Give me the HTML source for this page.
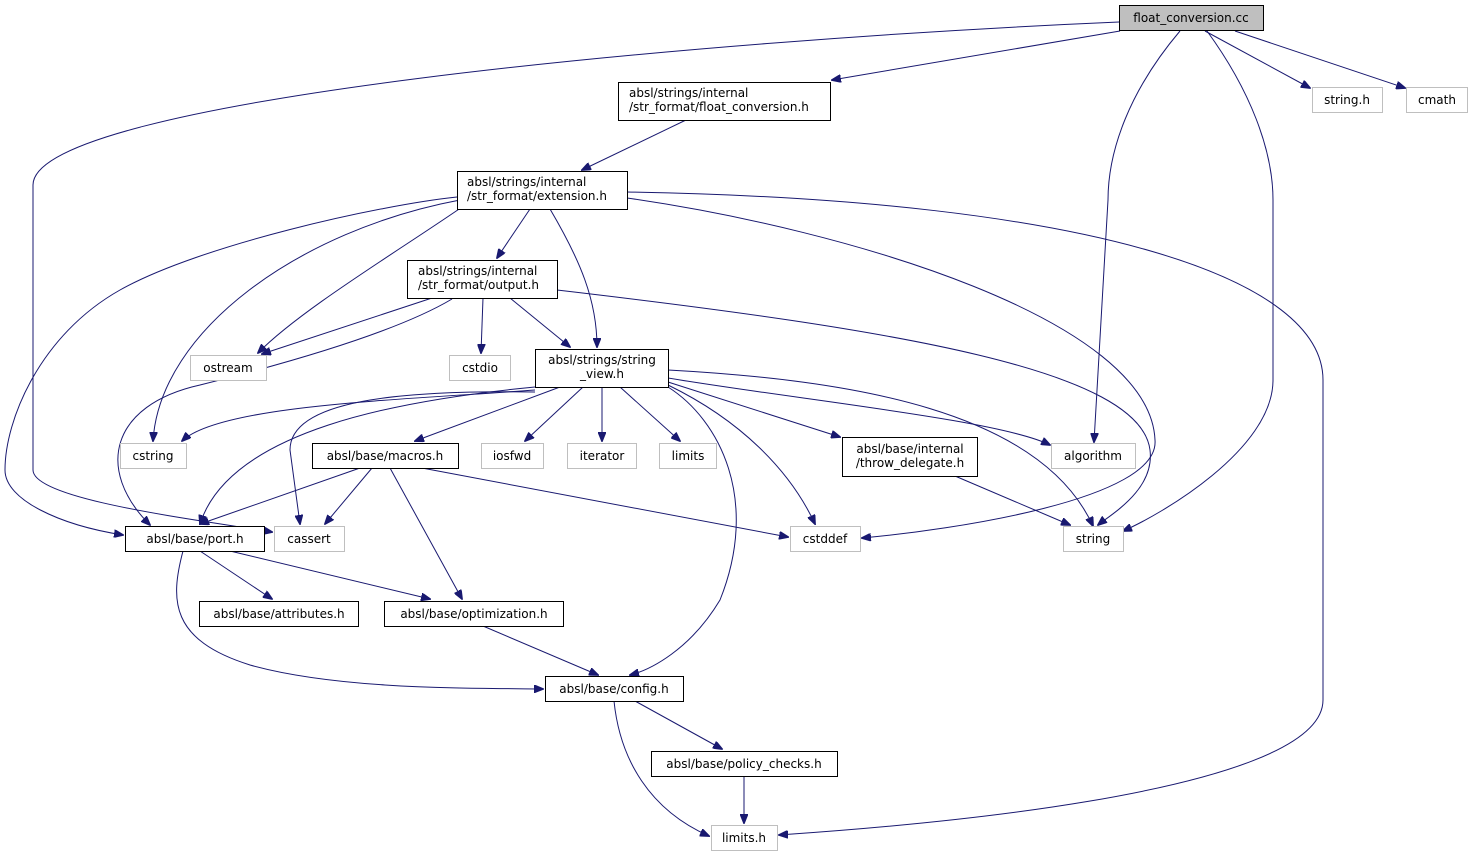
<!DOCTYPE html>
<html><head><meta charset="utf-8"><style>
html,body{margin:0;padding:0;background:#fff;}
svg{display:block;}
text{font-family:"DejaVu Sans","Liberation Sans",sans-serif;font-size:12px;fill:#000;}
.b{fill:#fff;stroke:#000;stroke-width:1;}
.g{fill:#fff;stroke:#bfbfbf;stroke-width:1;}
.e{fill:none;stroke:#191970;stroke-width:1;marker-end:url(#a);}
</style></head><body>
<svg width="1475" height="857" viewBox="0 0 1475 857">
<defs><marker id="a" markerWidth="10" markerHeight="8" refX="9" refY="4" orient="auto" markerUnits="userSpaceOnUse"><path d="M0,0 L10,4 L0,8 z" fill="#191970" stroke="#191970"/></marker></defs>
<g>
<path class="e" d="M1120,31 L832,80"/>
<path class="e" d="M1119,22 C700,40 33,100 33,185 L33,470 C33,500 200,520 272,532"/>
<path class="e" d="M1205,31 L1310,88"/>
<path class="e" d="M1235,31 L1405,88"/>
<path class="e" d="M1180,31 C1130,90 1108,150 1108,200 L1094,442"/>
<path class="e" d="M1207,31 C1250,90 1273,150 1273,200 L1273,380 C1273,450 1160,515 1123,531"/>
<path class="e" d="M686,120 L582,170"/>
<path class="e" d="M530,209 L497,258"/>
<path class="e" d="M550,209 C580,260 597,300 597,347"/>
<path class="e" d="M465,205 C400,250 300,310 258,353"/>
<path class="e" d="M460,200 C300,230 160,330 153,441"/>
<path class="e" d="M457,197 C380,205 200,245 120,290 C40,335 5,420 5,470 C5,500 60,525 123,535"/>
<path class="e" d="M627,198 C850,230 1150,320 1155,440 C1160,500 950,530 862,538"/>
<path class="e" d="M627,192 C1100,200 1323,280 1323,380 L1323,700 C1323,800 850,830 779,835"/>
<path class="e" d="M432,298 L262,354"/>
<path class="e" d="M483,298 L481,353"/>
<path class="e" d="M510,298 L570,347"/>
<path class="e" d="M452,299 C400,330 300,360 200,385 C110,405 95,470 150,525"/>
<path class="e" d="M557,290 C900,330 1140,370 1150,450 C1155,490 1110,515 1098,525"/>
<path class="e" d="M535,390 C400,400 220,405 182,441"/>
<path class="e" d="M560,387 L415,441"/>
<path class="e" d="M583,387 L525,441"/>
<path class="e" d="M602,387 L602,441"/>
<path class="e" d="M620,387 L680,441"/>
<path class="e" d="M668,382 L840,437"/>
<path class="e" d="M668,378 C800,400 1000,420 1050,445"/>
<path class="e" d="M668,370 C850,380 1040,410 1093,526"/>
<path class="e" d="M668,385 C740,420 790,470 815,524"/>
<path class="e" d="M668,387 C720,420 760,500 720,600 C690,650 650,670 630,675"/>
<path class="e" d="M535,392 C400,390 290,400 290,450 L300,524"/>
<path class="e" d="M535,387 C400,400 230,430 200,524"/>
<path class="e" d="M360,468 L200,524"/>
<path class="e" d="M372,468 L325,524"/>
<path class="e" d="M390,468 L462,599"/>
<path class="e" d="M422,468 L788,537"/>
<path class="e" d="M955,476 L1070,525"/>
<path class="e" d="M200,551 L272,599"/>
<path class="e" d="M230,551 L430,599"/>
<path class="e" d="M183,551 C170,600 170,640 250,665 C340,690 470,688 543,689"/>
<path class="e" d="M483,626 L598,675"/>
<path class="e" d="M635,701 L722,749"/>
<path class="e" d="M614,701 C620,760 650,810 709,836"/>
<path class="e" d="M744,776 L744,823"/>
</g>
<rect x="1119.5" y="5.5" width="144" height="25" fill="#bfbfbf" stroke="#000"/>
<text x="1191" y="22" text-anchor="middle">float_conversion.cc</text>
<rect class="b" x="618.5" y="82.5" width="212" height="38"/>
<text x="629" y="97">absl/strings/internal</text><text x="629" y="111">/str_format/float_conversion.h</text>
<rect class="g" x="1312.5" y="87.5" width="70" height="25"/><text x="1347" y="104" text-anchor="middle">string.h</text>
<rect class="g" x="1406.5" y="87.5" width="61" height="25"/><text x="1437" y="104" text-anchor="middle">cmath</text>
<rect class="b" x="457.5" y="171.5" width="170" height="38"/>
<text x="467" y="186">absl/strings/internal</text><text x="467" y="200">/str_format/extension.h</text>
<rect class="b" x="407.5" y="260.5" width="150" height="38"/>
<text x="418" y="275">absl/strings/internal</text><text x="418" y="289">/str_format/output.h</text>
<rect class="g" x="190.5" y="355.5" width="76" height="25"/><text x="228" y="372" text-anchor="middle">ostream</text>
<rect class="g" x="449.5" y="355.5" width="61" height="25"/><text x="480" y="372" text-anchor="middle">cstdio</text>
<rect class="b" x="535.5" y="349.5" width="133" height="38"/>
<text x="602" y="364" text-anchor="middle">absl/strings/string</text><text x="602" y="378" text-anchor="middle">_view.h</text>
<rect class="g" x="120.5" y="443.5" width="66" height="25"/><text x="153" y="460" text-anchor="middle">cstring</text>
<rect class="b" x="312.5" y="443.5" width="146" height="25"/><text x="385" y="460" text-anchor="middle">absl/base/macros.h</text>
<rect class="g" x="481.5" y="443.5" width="62" height="25"/><text x="512" y="460" text-anchor="middle">iosfwd</text>
<rect class="g" x="567.5" y="443.5" width="69" height="25"/><text x="602" y="460" text-anchor="middle">iterator</text>
<rect class="g" x="659.5" y="443.5" width="57" height="25"/><text x="688" y="460" text-anchor="middle">limits</text>
<rect class="b" x="842.5" y="437.5" width="135" height="39"/>
<text x="910" y="453" text-anchor="middle">absl/base/internal</text><text x="910" y="467" text-anchor="middle">/throw_delegate.h</text>
<rect class="g" x="1051.5" y="443.5" width="84" height="25"/><text x="1093" y="460" text-anchor="middle">algorithm</text>
<rect class="b" x="125.5" y="526.5" width="139" height="25"/><text x="195" y="543" text-anchor="middle">absl/base/port.h</text>
<rect class="g" x="274.5" y="526.5" width="70" height="25"/><text x="309" y="543" text-anchor="middle">cassert</text>
<rect class="g" x="790.5" y="526.5" width="70" height="25"/><text x="825" y="543" text-anchor="middle">cstddef</text>
<rect class="g" x="1063.5" y="526.5" width="60" height="25"/><text x="1093" y="543" text-anchor="middle">string</text>
<rect class="b" x="199.5" y="601.5" width="159" height="25"/><text x="279" y="618" text-anchor="middle">absl/base/attributes.h</text>
<rect class="b" x="384.5" y="601.5" width="179" height="25"/><text x="474" y="618" text-anchor="middle">absl/base/optimization.h</text>
<rect class="b" x="545.5" y="676.5" width="138" height="25"/><text x="614" y="693" text-anchor="middle">absl/base/config.h</text>
<rect class="b" x="651.5" y="751.5" width="186" height="25"/><text x="744" y="768" text-anchor="middle">absl/base/policy_checks.h</text>
<rect class="g" x="711.5" y="825.5" width="66" height="25"/><text x="744" y="842" text-anchor="middle">limits.h</text>
</svg>
</body></html>
